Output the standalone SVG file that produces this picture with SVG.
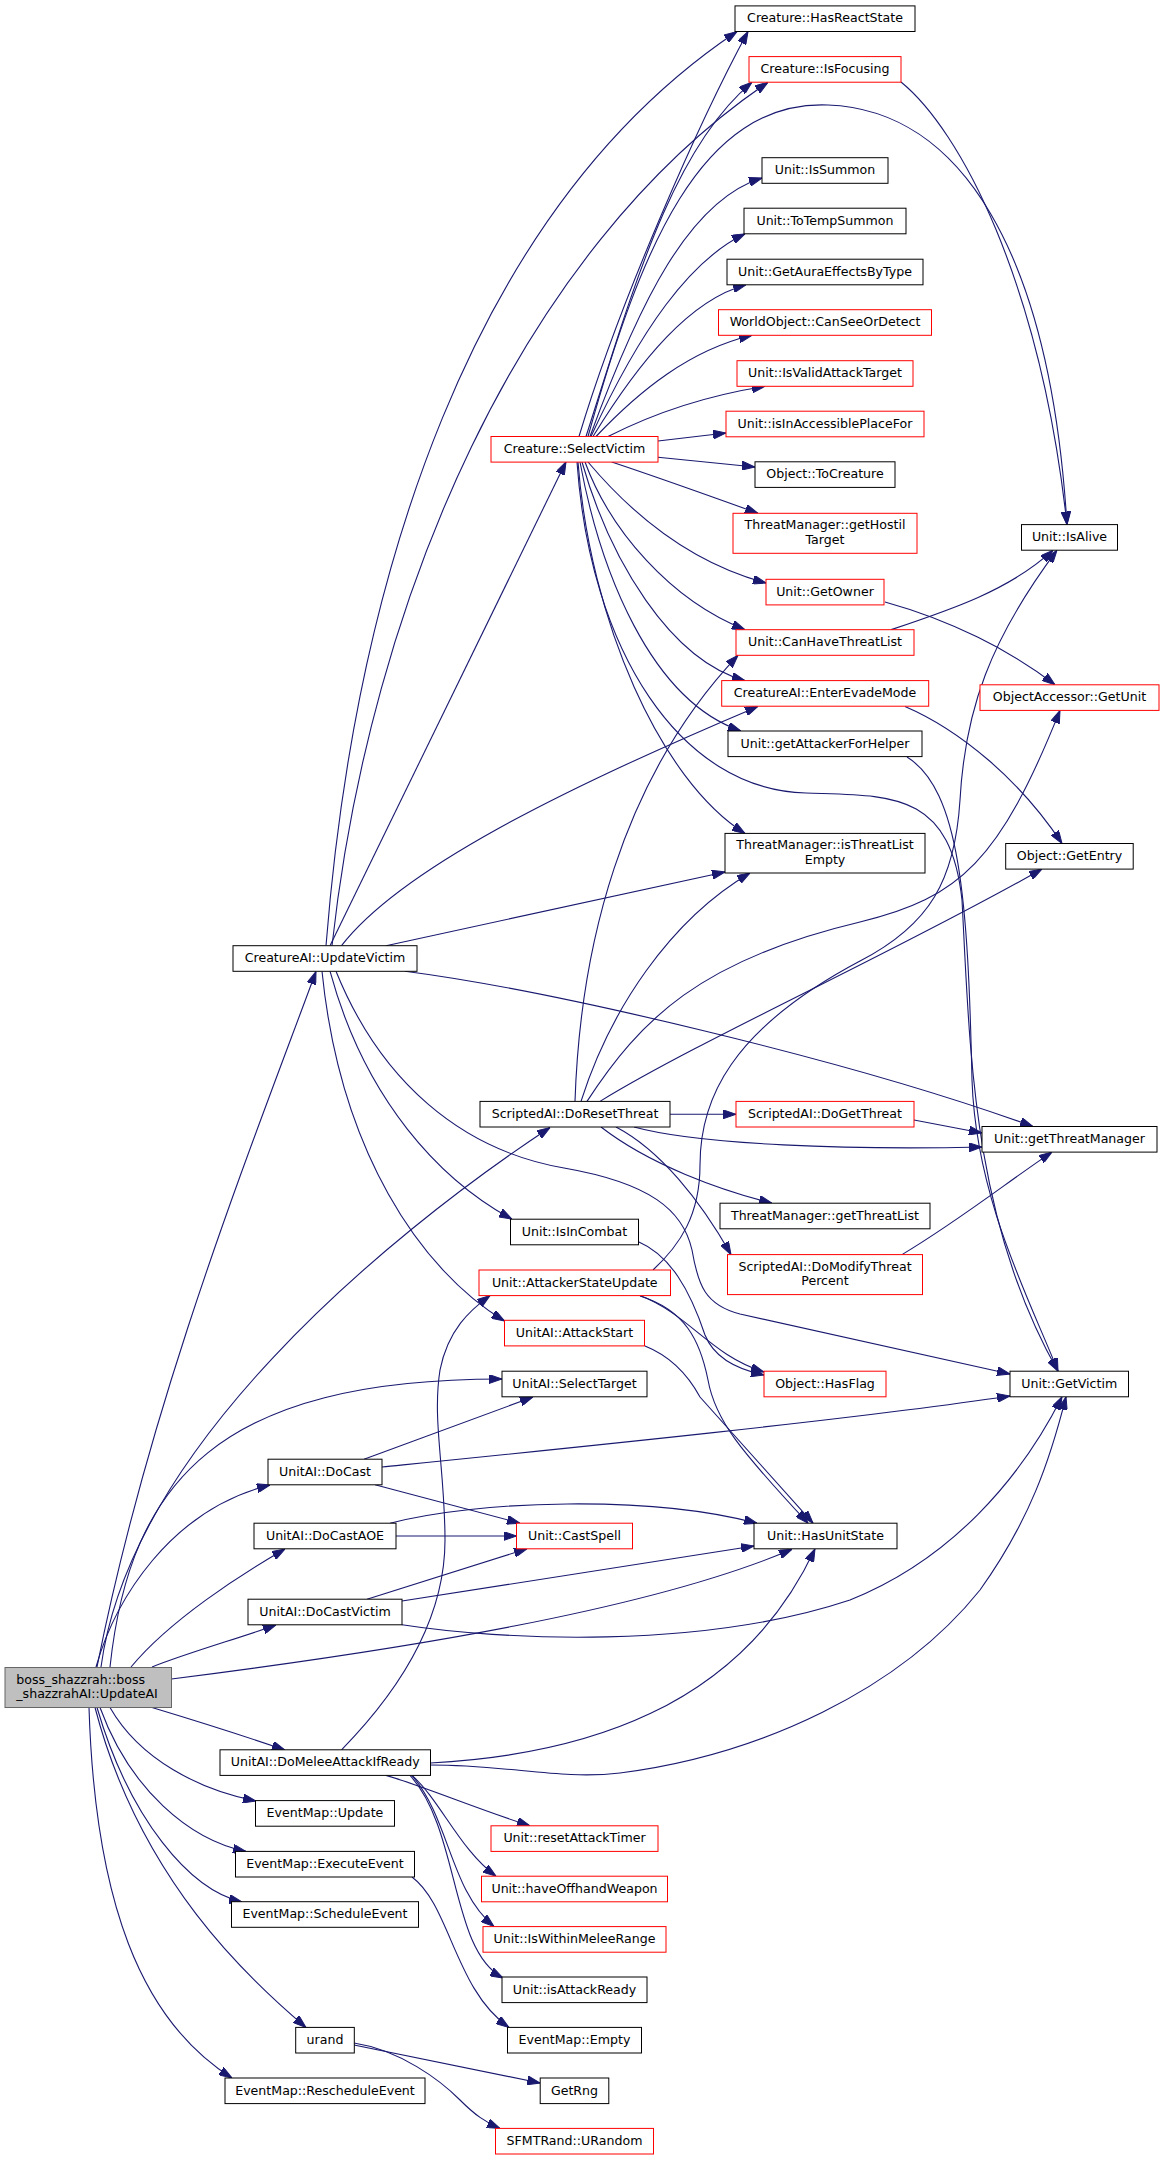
<svg xmlns="http://www.w3.org/2000/svg" width="1164" height="2163" viewBox="0 0 1164 2163">
<defs>
<marker id="a" viewBox="0 0 13 9" refX="13" refY="4.5" markerWidth="13" markerHeight="9" markerUnits="userSpaceOnUse" orient="auto"><path d="M0,0 L13,4.5 L0,9 z" fill="#191970" stroke="#191970" stroke-width="1"/></marker>
<style>
.e{fill:none;stroke:#191970;stroke-width:1.1;marker-end:url(#a)}
.n rect{fill:#fff;stroke:#000;stroke-width:1}
.r rect{fill:#fff;stroke:#ff0000;stroke-width:1}
.root rect{fill:#bfbfbf;stroke:#666;stroke-width:1}
text{font-family:"DejaVu Sans","Liberation Sans",sans-serif;font-size:12.6px;fill:#000;text-anchor:middle}
</style>
</defs>
<rect width="1164" height="2163" fill="#fff"/>
<g id="edges">
<path class="e" d="M97,1667 C150,1400 250,1150 316,971.5"/>
<path class="e" d="M101,1667 C130,1450 380,1240 550,1127.5"/>
<path class="e" d="M110,1667 C130,1480 220,1379 502,1379"/>
<path class="e" d="M96,1667 C115,1600 170,1510 270,1485"/>
<path class="e" d="M131,1667 C170,1620 240,1575 285,1549"/>
<path class="e" d="M152,1667 C190,1652 240,1638 276,1625"/>
<path class="e" d="M171.5,1679 C400,1650 650,1610 792,1549.3"/>
<path class="e" d="M152,1707.5 C200,1722 250,1738 285,1750"/>
<path class="e" d="M110,1707.5 C140,1760 200,1790 256,1801"/>
<path class="e" d="M100,1707.5 C130,1790 190,1840 246,1851.4"/>
<path class="e" d="M97,1707.5 C130,1820 190,1890 242,1902"/>
<path class="e" d="M95,1707.5 C140,1880 250,1980 306,2027.4"/>
<path class="e" d="M89,1707.5 C95,1900 140,2020 232,2078"/>
<path class="e" d="M326,945.7 C355,580 470,210 737,31.5"/>
<path class="e" d="M332,945.7 C370,600 520,250 768,82.3"/>
<path class="e" d="M330,945.7 L566,461.8"/>
<path class="e" d="M341.5,945.7 C400,870 560,790 758,706.4"/>
<path class="e" d="M386,945.7 L725,872"/>
<path class="e" d="M405,971.2 C550,990 850,1060 1033,1126.5"/>
<path class="e" d="M330,971.2 C365,1100 440,1180 512,1219.2"/>
<path class="e" d="M322,971.2 C340,1150 420,1270 504.5,1321"/>
<path class="e" d="M336,971.2 C380,1080 460,1150 564,1168 C650,1183 683,1210 692,1250 C698,1285 705,1305 740,1314 L1010,1374"/>
<path class="e" d="M579,436.5 C620,300 700,120 748,31.5"/>
<path class="e" d="M586,436.5 C630,300 670,150 752,82.3"/>
<path class="e" d="M588,436.5 C640,250 700,100 828,105 C960,110 1050,250 1067,524.6"/>
<path class="e" d="M901,82 C960,130 1040,280 1067,524.6"/>
<path class="e" d="M590,436.5 C640,300 690,200 762,178"/>
<path class="e" d="M591,436.5 C640,330 690,260 745,233.8"/>
<path class="e" d="M593,436.5 C640,360 690,300 746,284.8"/>
<path class="e" d="M596,436.5 C640,390 690,350 752,335.3"/>
<path class="e" d="M608,436.5 C660,410 710,395 765,386.3"/>
<path class="e" d="M658,441 L726,433"/>
<path class="e" d="M658,457.3 L755,467"/>
<path class="e" d="M611.7,462 C660,478 710,496 758,513.3"/>
<path class="e" d="M588,462 C620,500 680,560 766,583"/>
<path class="e" d="M585,462 C610,530 670,600 745,629.7"/>
<path class="e" d="M582,462 C610,560 670,660 745,680.6"/>
<path class="e" d="M580,462 C600,570 650,700 741,731"/>
<path class="e" d="M578,462 C590,620 660,780 745,833.4"/>
<path class="e" d="M577,462 C590,650 680,790 806,793 C890,796 950,790 962,900 C970,1050 972,1220 1058,1371.2"/>
<path class="e" d="M907,757 C960,790 968,900 972,1080 C976,1200 1030,1300 1058,1371.2"/>
<path class="e" d="M885,602 C950,620 1010,650 1055,684.8"/>
<path class="e" d="M891,629.7 C950,610 1010,590 1053,550.2"/>
<path class="e" d="M905,706.4 C960,730 1020,780 1062,843.5"/>
<path class="e" d="M575,1101.4 C580,950 620,780 738,655.3"/>
<path class="e" d="M581,1101.4 C610,1010 670,920 750,873"/>
<path class="e" d="M587,1101.4 C640,1020 700,960 860,922 C960,898 1000,860 1060,710.4"/>
<path class="e" d="M600,1101.4 C700,1040 900,950 1042,869"/>
<path class="e" d="M670,1114.3 L736,1114.3"/>
<path class="e" d="M634,1127 C700,1145 850,1150 982,1147"/>
<path class="e" d="M914,1120 L982,1133"/>
<path class="e" d="M601,1127 C650,1165 720,1190 772,1203.2"/>
<path class="e" d="M616,1127 C660,1150 700,1200 731,1254.6"/>
<path class="e" d="M902,1254.6 C960,1220 1010,1180 1052,1152.1"/>
<path class="e" d="M653,1270 C680,1245 700,1215 700,1165 C700,1100 730,1030 860,961 C930,925 955,880 960,800 C965,710 990,640 1057,550.2"/>
<path class="e" d="M638.4,1241.7 C670,1255 690,1290 705,1335 C715,1360 740,1370 764,1375"/>
<path class="e" d="M640,1295.6 C690,1315 710,1355 764,1372"/>
<path class="e" d="M640,1296 C685,1310 700,1340 708,1380 C715,1420 740,1450 808,1523.2"/>
<path class="e" d="M645,1346 C670,1356 688,1375 700,1397 L813,1523.2"/>
<path class="e" d="M364,1459.2 L533,1397"/>
<path class="e" d="M382,1467 C550,1450 850,1420 1010,1396"/>
<path class="e" d="M375,1484.8 L520,1523.2"/>
<path class="e" d="M396,1536 L516.5,1536"/>
<path class="e" d="M390,1523.2 C480,1500 650,1495 757,1523.2"/>
<path class="e" d="M367,1599.2 L527,1548.8"/>
<path class="e" d="M402,1601 L754,1546"/>
<path class="e" d="M402,1624.8 C500,1640 700,1650 850,1600 C950,1560 1020,1480 1062,1396.8"/>
<path class="e" d="M430.5,1763 C580,1755 740,1710 815,1548.8"/>
<path class="e" d="M430.5,1765 C510,1765 560,1780 620,1773 C760,1755 900,1690 980,1590 C1030,1520 1050,1460 1066,1396.8"/>
<path class="e" d="M341.5,1749.8 C400,1690 445,1620 445,1540 C445,1470 432,1420 440,1370 C448,1330 470,1310 490,1295.6"/>
<path class="e" d="M386,1775.4 C420,1785 480,1810 530,1825.8"/>
<path class="e" d="M412,1775.4 C440,1800 460,1850 496,1876.2"/>
<path class="e" d="M412,1775.4 C450,1820 450,1890 494,1926.6"/>
<path class="e" d="M410,1775.4 C460,1830 450,1950 503,1978"/>
<path class="e" d="M412,1877 C450,1905 455,1990 509,2027.4"/>
<path class="e" d="M354,2045 L540.2,2083"/>
<path class="e" d="M354,2043 C400,2050 440,2080 460,2100 C475,2115 485,2122 500,2128.4"/>
</g>
<g id="n_hasReactState" class="n"><rect x="735" y="5.9" width="180" height="25.6"/><text x="825" y="22.4">Creature::HasReactState</text></g>
<g id="n_isFocusing" class="r"><rect x="749" y="56.6" width="152" height="25.6"/><text x="825" y="73.1">Creature::IsFocusing</text></g>
<g id="n_isSummon" class="n"><rect x="762" y="157.7" width="126" height="25.6"/><text x="825" y="174.2">Unit::IsSummon</text></g>
<g id="n_toTempSummon" class="n"><rect x="744" y="208.2" width="162" height="25.6"/><text x="825" y="224.7">Unit::ToTempSummon</text></g>
<g id="n_getAura" class="n"><rect x="727" y="259.2" width="196" height="25.6"/><text x="825" y="275.7">Unit::GetAuraEffectsByType</text></g>
<g id="n_canSee" class="r"><rect x="718.5" y="309.7" width="213" height="25.6"/><text x="825" y="326.2">WorldObject::CanSeeOrDetect</text></g>
<g id="n_isValid" class="r"><rect x="737" y="360.7" width="176" height="25.6"/><text x="825" y="377.2">Unit::IsValidAttackTarget</text></g>
<g id="n_isInAccess" class="r"><rect x="726" y="411.2" width="198" height="25.6"/><text x="825" y="427.7">Unit::isInAccessiblePlaceFor</text></g>
<g id="n_toCreature" class="n"><rect x="755" y="461.8" width="140" height="25.6"/><text x="825" y="478.3">Object::ToCreature</text></g>
<g id="n_getHostil" class="r"><rect x="733" y="513.3" width="184" height="40"/><text x="825" y="529.3">ThreatManager::getHostil</text><text x="825" y="544">Target</text></g>
<g id="n_isAlive" class="n"><rect x="1021.5" y="524.6" width="96" height="25.6"/><text x="1069.5" y="541.1">Unit::IsAlive</text></g>
<g id="n_getOwner" class="r"><rect x="766" y="579.3" width="118" height="25.6"/><text x="825" y="595.8">Unit::GetOwner</text></g>
<g id="n_canHave" class="r"><rect x="736" y="629.7" width="178" height="25.6"/><text x="825" y="646.2">Unit::CanHaveThreatList</text></g>
<g id="n_enterEvade" class="r"><rect x="721.7" y="680.6" width="207" height="25.6"/><text x="825" y="697.1">CreatureAI::EnterEvadeMode</text></g>
<g id="n_objAccGetUnit" class="r"><rect x="980" y="684.8" width="179" height="25.6"/><text x="1069.5" y="701.3">ObjectAccessor::GetUnit</text></g>
<g id="n_getAttacker" class="n"><rect x="728" y="731" width="194" height="25.6"/><text x="825" y="747.5">Unit::getAttackerForHelper</text></g>
<g id="n_isThreatListEmpty" class="n"><rect x="725" y="833.4" width="200" height="39.6"/><text x="825" y="849.4">ThreatManager::isThreatList</text><text x="825" y="864.2">Empty</text></g>
<g id="n_getEntry" class="n"><rect x="1005.7" y="843.5" width="127.5" height="25.6"/><text x="1069.5" y="860">Object::GetEntry</text></g>
<g id="n_updateVictim" class="n"><rect x="233" y="945.7" width="184" height="25.6"/><text x="325" y="962.2">CreatureAI::UpdateVictim</text></g>
<g id="n_selectVictim" class="r"><rect x="491" y="436.5" width="167" height="25.6"/><text x="574.5" y="453">Creature::SelectVictim</text></g>
<g id="n_doResetThreat" class="n"><rect x="480" y="1101.4" width="190" height="25.6"/><text x="575" y="1117.9">ScriptedAI::DoResetThreat</text></g>
<g id="n_doGetThreat" class="r"><rect x="736" y="1101.4" width="178" height="25.6"/><text x="825" y="1117.9">ScriptedAI::DoGetThreat</text></g>
<g id="n_getThreatManager" class="n"><rect x="982" y="1126.5" width="175" height="25.6"/><text x="1069.5" y="1143">Unit::getThreatManager</text></g>
<g id="n_getThreatList" class="n"><rect x="720" y="1203.2" width="210" height="25.6"/><text x="825" y="1219.7">ThreatManager::getThreatList</text></g>
<g id="n_isInCombat" class="n"><rect x="510.5" y="1219.2" width="128" height="25.6"/><text x="574.5" y="1235.7">Unit::IsInCombat</text></g>
<g id="n_doModify" class="r"><rect x="727.5" y="1254.6" width="195" height="40"/><text x="825" y="1270.6">ScriptedAI::DoModifyThreat</text><text x="825" y="1285.4">Percent</text></g>
<g id="n_attackerStateUpdate" class="r"><rect x="479" y="1270" width="191.5" height="25.6"/><text x="574.75" y="1286.5">Unit::AttackerStateUpdate</text></g>
<g id="n_attackStart" class="r"><rect x="504.5" y="1320.3" width="140" height="25.6"/><text x="574.5" y="1336.8">UnitAI::AttackStart</text></g>
<g id="n_hasFlag" class="r"><rect x="764" y="1371.2" width="122" height="25.6"/><text x="825" y="1387.7">Object::HasFlag</text></g>
<g id="n_getVictim" class="n"><rect x="1010" y="1371.2" width="118.5" height="25.6"/><text x="1069.25" y="1387.7">Unit::GetVictim</text></g>
<g id="n_selectTarget" class="n"><rect x="502" y="1371.2" width="145" height="25.6"/><text x="574.5" y="1387.7">UnitAI::SelectTarget</text></g>
<g id="n_doCast" class="n"><rect x="268" y="1459.2" width="114" height="25.6"/><text x="325" y="1475.7">UnitAI::DoCast</text></g>
<g id="n_doCastAOE" class="n"><rect x="254" y="1523.2" width="142" height="25.6"/><text x="325" y="1539.7">UnitAI::DoCastAOE</text></g>
<g id="n_castSpell" class="r"><rect x="516.5" y="1523.2" width="116" height="25.6"/><text x="574.5" y="1539.7">Unit::CastSpell</text></g>
<g id="n_hasUnitState" class="n"><rect x="754" y="1523.2" width="143" height="25.6"/><text x="825.5" y="1539.7">Unit::HasUnitState</text></g>
<g id="n_doCastVictim" class="n"><rect x="248" y="1599.2" width="154" height="25.6"/><text x="325" y="1615.7">UnitAI::DoCastVictim</text></g>
<g id="n_boss" class="root"><rect x="5" y="1667.5" width="166.5" height="40"/><text x="16.3" y="1683.5" style="text-anchor:start">boss_shazzrah::boss</text><text x="16.3" y="1698.3" style="text-anchor:start">_shazzrahAI::UpdateAI</text></g>
<g id="n_doMelee" class="n"><rect x="220" y="1749.8" width="210.5" height="25.6"/><text x="325.25" y="1766.3">UnitAI::DoMeleeAttackIfReady</text></g>
<g id="n_emUpdate" class="n"><rect x="255.5" y="1800.6" width="139" height="25.6"/><text x="325" y="1817.1">EventMap::Update</text></g>
<g id="n_resetAttackTimer" class="r"><rect x="491" y="1825.8" width="167" height="25.6"/><text x="574.5" y="1842.3">Unit::resetAttackTimer</text></g>
<g id="n_executeEvent" class="n"><rect x="235.5" y="1851.4" width="179" height="25.6"/><text x="325" y="1867.9">EventMap::ExecuteEvent</text></g>
<g id="n_haveOffhand" class="r"><rect x="481.5" y="1876.2" width="186" height="25.6"/><text x="574.5" y="1892.7">Unit::haveOffhandWeapon</text></g>
<g id="n_scheduleEvent" class="n"><rect x="231.5" y="1901.7" width="187" height="25.6"/><text x="325" y="1918.2">EventMap::ScheduleEvent</text></g>
<g id="n_isWithinMelee" class="r"><rect x="483" y="1926.6" width="183" height="25.6"/><text x="574.5" y="1943.1">Unit::IsWithinMeleeRange</text></g>
<g id="n_isAttackReady" class="n"><rect x="502" y="1977" width="145" height="25.6"/><text x="574.5" y="1993.5">Unit::isAttackReady</text></g>
<g id="n_urand" class="n"><rect x="295.7" y="2027.4" width="58.6" height="25.6"/><text x="325" y="2043.9">urand</text></g>
<g id="n_emEmpty" class="n"><rect x="507.5" y="2027.4" width="134" height="25.6"/><text x="574.5" y="2043.9">EventMap::Empty</text></g>
<g id="n_reschedule" class="n"><rect x="225" y="2078" width="200" height="25.6"/><text x="325" y="2094.5">EventMap::RescheduleEvent</text></g>
<g id="n_getRng" class="n"><rect x="540.2" y="2078" width="68.6" height="25.6"/><text x="574.5" y="2094.5">GetRng</text></g>
<g id="n_urandom" class="r"><rect x="495.5" y="2128.4" width="158" height="25.6"/><text x="574.5" y="2144.9">SFMTRand::URandom</text></g>
</svg>
